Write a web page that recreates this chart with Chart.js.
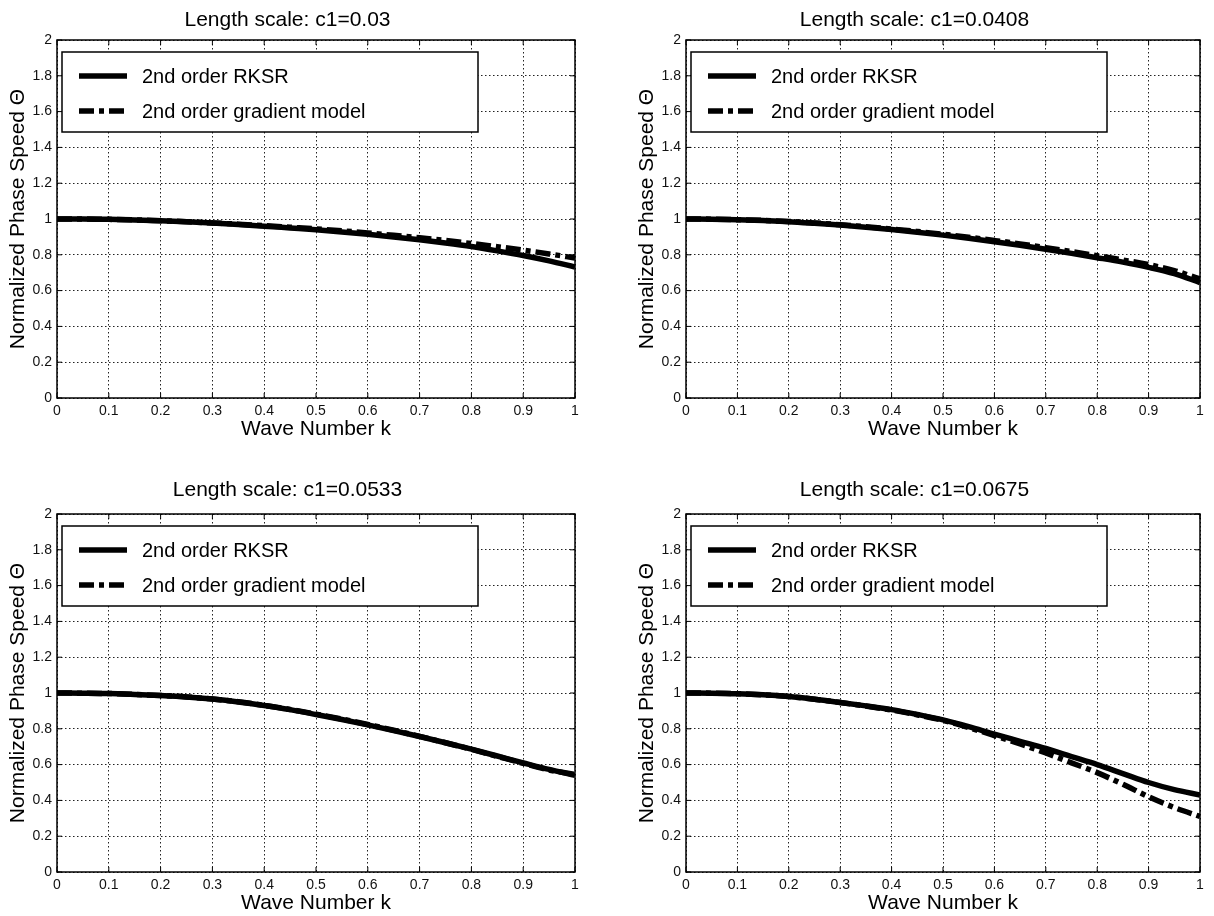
<!DOCTYPE html>
<html>
<head>
<meta charset="utf-8">
<script src="https://cdn.jsdelivr.net/npm/chart.js@4.4.0/dist/chart.umd.min.js"></script>
<style>
body { margin: 0; background: #fff; }
.box { position: absolute; width: 607px; height: 458px; }
</style>
</head>
<body>
<div class="box" style="left:0;top:0"><canvas id="c1" width="607" height="458"></canvas></div>
<div class="box" style="left:607px;top:0"><canvas id="c2" width="607" height="458"></canvas></div>
<div class="box" style="left:0;top:458px"><canvas id="c3" width="607" height="458"></canvas></div>
<div class="box" style="left:607px;top:458px"><canvas id="c4" width="607" height="458"></canvas></div>
<script>
// wave number samples
const waveNumber = [0, 0.05, 0.1, 0.15, 0.2, 0.25, 0.3, 0.35, 0.4, 0.45, 0.5, 0.55, 0.6, 0.65, 0.7, 0.75, 0.8, 0.85, 0.9, 0.95, 1];

const titles = ["Length scale: c1=0.03", "Length scale: c1=0.0408", "Length scale: c1=0.0533", "Length scale: c1=0.0675"];
const seriesNames = ["2nd order RKSR", "2nd order gradient model"];

const xTicks = [0, 0.1, 0.2, 0.3, 0.4, 0.5, 0.6, 0.7, 0.8, 0.9, 1];
const yTicks = [0, 0.2, 0.4, 0.6, 0.8, 1, 1.2, 1.4, 1.6, 1.8, 2];

// c1 = 0.03
const rksr1 = [1, 1, 0.998, 0.995, 0.99, 0.984, 0.977, 0.969, 0.96, 0.95, 0.94, 0.928, 0.915, 0.9, 0.884, 0.866, 0.846, 0.822, 0.796, 0.766, 0.732];
const grad1 = [1, 1, 0.998, 0.995, 0.99, 0.985, 0.978, 0.971, 0.963, 0.954, 0.945, 0.934, 0.922, 0.909, 0.895, 0.88, 0.863, 0.845, 0.826, 0.805, 0.782];
// c1 = 0.0408
const rksr2 = [1, 0.999, 0.996, 0.991, 0.985, 0.976, 0.966, 0.954, 0.941, 0.926, 0.91, 0.892, 0.873, 0.853, 0.831, 0.808, 0.784, 0.759, 0.73, 0.695, 0.645];
const grad2 = [1, 0.999, 0.996, 0.992, 0.986, 0.978, 0.968, 0.957, 0.944, 0.93, 0.915, 0.898, 0.88, 0.861, 0.84, 0.818, 0.795, 0.771, 0.745, 0.712, 0.665];
// c1 = 0.0533
const rksr3 = [1, 0.999, 0.997, 0.992, 0.986, 0.978, 0.966, 0.95, 0.93, 0.907, 0.88, 0.852, 0.822, 0.79, 0.757, 0.722, 0.686, 0.648, 0.61, 0.573, 0.54];
const grad3 = [1, 0.999, 0.997, 0.992, 0.986, 0.978, 0.966, 0.951, 0.931, 0.908, 0.882, 0.854, 0.824, 0.792, 0.758, 0.722, 0.685, 0.646, 0.607, 0.57, 0.545];
// c1 = 0.0675
const rksr4 = [1, 0.999, 0.996, 0.99, 0.98, 0.965, 0.947, 0.928, 0.907, 0.88, 0.85, 0.812, 0.77, 0.73, 0.69, 0.645, 0.6, 0.55, 0.5, 0.46, 0.43];
const grad4 = [1, 0.999, 0.996, 0.99, 0.98, 0.965, 0.947, 0.927, 0.905, 0.878, 0.847, 0.807, 0.762, 0.715, 0.665, 0.61, 0.555, 0.49, 0.42, 0.36, 0.31];

const FONT = "'Liberation Sans', Arial, Helvetica, sans-serif";

function pts(ys) {
    return waveNumber.map(function(k, i) { return { x: k, y: ys[i] }; });
}

function fmt(v) {
    return String(Number(v.toFixed(1)));
}

// box around the axes + inward tick marks (matlab look)
const frame = {
    id: "frame",
    afterDraw(chart) {
        const ctx = chart.ctx;
        const a = chart.chartArea;
        const xs = chart.scales.x, ys = chart.scales.y;
        ctx.save();
        ctx.strokeStyle = "#000";
        ctx.lineWidth = 1.5;
        ctx.setLineDash([]);
        ctx.strokeRect(a.left, a.top, a.right - a.left, a.bottom - a.top);
        ctx.lineWidth = 1;
        ctx.beginPath();
        xTicks.forEach(function(t) {
            const px = xs.getPixelForValue(t);
            ctx.moveTo(px, a.bottom); ctx.lineTo(px, a.bottom - 5);
            ctx.moveTo(px, a.top); ctx.lineTo(px, a.top + 5);
        });
        yTicks.forEach(function(t) {
            const py = ys.getPixelForValue(t);
            ctx.moveTo(a.left, py); ctx.lineTo(a.left + 5, py);
            ctx.moveTo(a.right, py); ctx.lineTo(a.right - 5, py);
        });
        ctx.stroke();
        ctx.restore();
    }
};

// legend box drawn inside the plot, top left
const boxLegend = {
    id: "boxLegend",
    afterDraw(chart) {
        const ctx = chart.ctx;
        const a = chart.chartArea;
        const x = a.left + 5, y = a.top + 12, w = 416, h = 80;
        ctx.save();
        ctx.fillStyle = "#fff";
        ctx.fillRect(x, y, w, h);
        ctx.strokeStyle = "#000";
        ctx.lineWidth = 1.5;
        ctx.strokeRect(x, y, w, h);
        chart.data.datasets.forEach(function(ds, i) {
            const ly = y + 24 + i * 35;
            ctx.beginPath();
            ctx.lineWidth = ds.borderWidth;
            ctx.setLineDash(ds.borderDash || []);
            ctx.moveTo(x + 17, ly);
            ctx.lineTo(x + 65, ly);
            ctx.stroke();
            ctx.setLineDash([]);
            ctx.fillStyle = "#000";
            ctx.font = "20px " + FONT;
            ctx.textBaseline = "middle";
            ctx.fillText(ds.label, x + 80, ly + 1);
        });
        ctx.restore();
    }
};

function makeChart(id, title, rksr, grad, pad) {
    return new Chart(document.getElementById(id), {
        type: "line",
        data: {
            datasets: [{
                label: seriesNames[0],
                data: pts(rksr),
                borderColor: "#000",
                borderWidth: 5.5,
                pointRadius: 0,
                cubicInterpolationMode: "monotone"
            }, {
                label: seriesNames[1],
                data: pts(grad),
                borderColor: "#000",
                borderWidth: 5.5,
                borderDash: [15, 5, 5, 5],
                pointRadius: 0,
                cubicInterpolationMode: "monotone"
            }]
        },
        options: {
            responsive: false,
            animation: false,
            layout: { padding: { left: pad.left, right: pad.right, top: 0, bottom: pad.bottom } },
            plugins: {
                legend: { display: false },
                tooltip: { enabled: false },
                title: {
                    display: true,
                    text: title,
                    color: "#000",
                    font: { family: FONT, size: 21, weight: "normal" },
                    padding: { top: pad.titleTop, bottom: pad.titleBottom }
                }
            },
            scales: {
                x: {
                    type: "linear",
                    min: 0, max: 1,
                    afterBuildTicks: function(s) { s.ticks = xTicks.map(function(v) { return { value: v }; }); },
                    afterFit: function(s) { s.height = 44; },
                    ticks: { color: "#111", font: { family: FONT, size: 14 }, padding: 5, maxRotation: 0, callback: fmt },
                    grid: { color: "#222", lineWidth: 1, drawTicks: false },
                    border: { display: false, dash: [1.5, 2.5] },
                    title: { display: true, text: "Wave Number k", color: "#000", font: { family: FONT, size: 21 }, padding: { top: 0, bottom: 0 } }
                },
                y: {
                    type: "linear",
                    min: 0, max: 2,
                    afterBuildTicks: function(s) { s.ticks = yTicks.map(function(v) { return { value: v }; }); },
                    afterFit: function(s) { s.width = 57; },
                    ticks: { color: "#111", font: { family: FONT, size: 14 }, padding: 5, callback: fmt },
                    grid: { color: "#222", lineWidth: 1, drawTicks: false },
                    border: { display: false, dash: [1.5, 2.5] },
                    title: { display: true, text: "Normalized Phase Speed \u0398", color: "#000", font: { family: FONT, size: 21 }, padding: { top: 6, bottom: 0 } }
                }
            }
        },
        plugins: [frame, boxLegend]
    });
}

makeChart("c1", titles[0], rksr1, grad1, { left: 0, right: 32, bottom: 16, titleTop: 8, titleBottom: 6.8 });
makeChart("c2", titles[1], rksr2, grad2, { left: 22, right: 14, bottom: 16, titleTop: 8, titleBottom: 6.8 });
makeChart("c3", titles[2], rksr3, grad3, { left: 0, right: 32, bottom: 0, titleTop: 19.4, titleBottom: 11.4 });
makeChart("c4", titles[3], rksr4, grad4, { left: 22, right: 14, bottom: 0, titleTop: 19.4, titleBottom: 11.4 });
</script>
</body>
</html>
